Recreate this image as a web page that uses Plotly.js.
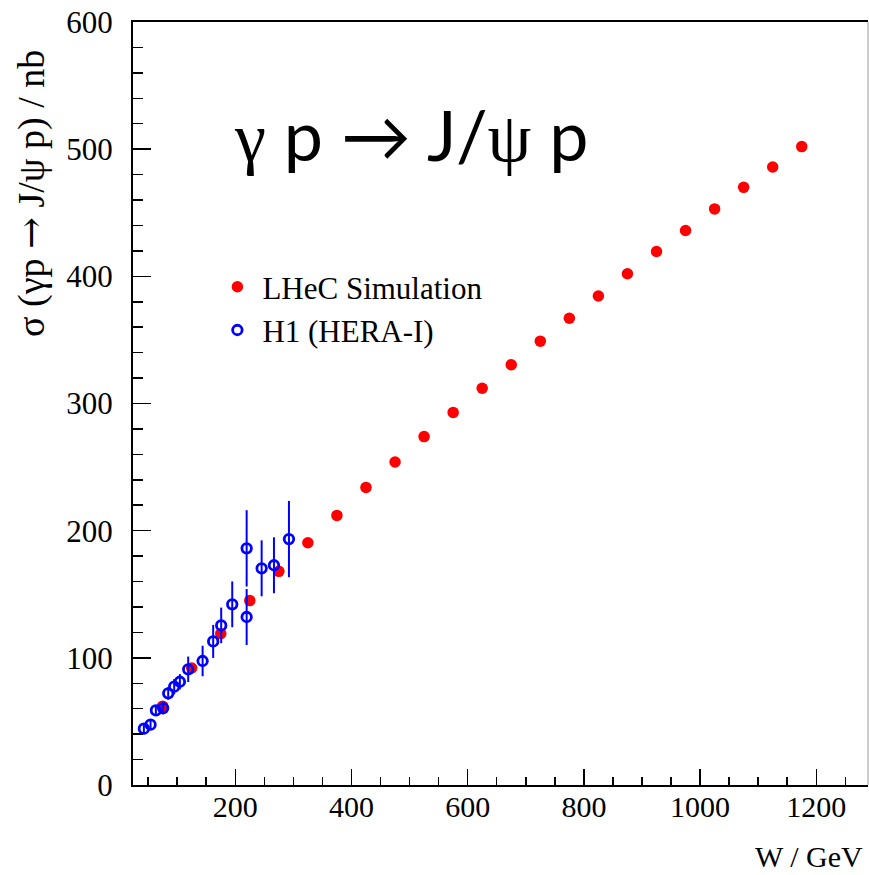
<!DOCTYPE html>
<html>
<head>
<meta charset="utf-8">
<script src="https://cdn.plot.ly/plotly-3.0.1.min.js"></script>
<style>html,body{margin:0;padding:0;background:#fff;}</style>
</head>
<body>
<div id="chart" style="width:869px;height:875px;"></div>
<script>
// LHeC simulation
const lhecW = [75,125,175,225,275,325,375,425,475,525,575,625,675,725,775,825,875,925,975,1025,1075,1125,1175];
const lhecSigma = [62,92,119,145,168,190.5,212,234,254,274,293,312,330.5,349,367,384.5,402,419.5,436,453,470,486,502];
// H1 (HERA-I)
const h1W = [42.7,54.2,63.4,75.9,84.6,94.9,104.7,119,143.8,162,175.8,194.8,219.6,219.6,245.4,266.6,292.4];
const h1Sigma = [44.3,47.4,58.7,60.5,72.1,77.3,81.2,91.0,97.5,112.9,125.5,142.1,186.1,132.1,170.4,172.8,193.4];
const h1Err = [3,3,4,5,5,6,6,10,12,13,14,18,30,22,22,22,30];

const serif = 'Liberation Serif, Times New Roman, serif';

const traces = [
  {
    x: lhecW, y: lhecSigma, type: 'scatter', mode: 'markers', name: 'LHeC Simulation',
    marker: {color: '#ff0000', size: 11.5, symbol: 'circle'}
  },
  {
    x: h1W, y: h1Sigma, type: 'scatter', mode: 'markers', name: 'H1 (HERA-I)',
    marker: {color: '#0000ff', size: 9.5, symbol: 'circle-open', line: {color: '#0000ff', width: 2.8}},
    error_y: {type: 'data', array: h1Err, visible: true, color: '#0000ff', thickness: 2, width: 0}
  }
];

const layout = {
  width: 869, height: 875,
  margin: {l: 133, r: 1, t: 22, b: 90},
  paper_bgcolor: '#ffffff', plot_bgcolor: '#ffffff',
  showlegend: true,
  xaxis: {
    range: [24, 1289], showgrid: false, zeroline: false,
    showline: true, linecolor: '#000', linewidth: 2, mirror: true,
    ticks: 'inside', ticklen: 16, tickwidth: 1.5, tickcolor: '#000',
    tick0: 0, dtick: 200,
    minor: {ticks: 'inside', dtick: 50, tick0: 0, ticklen: 8, tickwidth: 1.5, tickcolor: '#000', showgrid: false},
    tickfont: {family: serif, size: 30, color: '#000'},
    ticklabelstandoff: -6
  },
  yaxis: {
    range: [0, 600], showgrid: false, zeroline: false,
    showline: true, linecolor: '#000', linewidth: 2,
    ticks: 'inside', ticklen: 18, tickwidth: 1.5, tickcolor: '#000',
    tick0: 0, dtick: 100,
    minor: {ticks: 'inside', dtick: 20, tick0: 0, ticklen: 10, tickwidth: 1.5, tickcolor: '#000', showgrid: false},
    tickfont: {family: serif, size: 31, color: '#000'},
    ticklabelstandoff: 12
  },
  legend: {
    x: 0.108, y: 0.688, xanchor: 'left', yanchor: 'top',
    bgcolor: 'rgba(0,0,0,0)', borderwidth: 0, itemwidth: 40,
    font: {family: serif, size: 31, color: '#000'},
    tracegroupgap: 0
  },
  shapes: [
    {type: 'line', xref: 'paper', yref: 'paper', x0: 1, x1: 1, y0: 0, y1: 1, line: {color: '#999', width: 1}}
  ],
  annotations: [
    {
      text: 'σ (γp <span style="font-family:DejaVu Serif">→</span> J/ψ p) / nb', xref: 'paper', yref: 'paper',
      x: -0.1388, y: 0.776, xanchor: 'center', yanchor: 'middle', textangle: -90,
      showarrow: false, font: {family: serif, size: 38, color: '#000'}
    },
    {
      text: 'W / GeV', xref: 'paper', yref: 'paper',
      x: 0.995, y: -0.0931, xanchor: 'right', yanchor: 'middle', borderpad: 0,
      showarrow: false, font: {family: serif, size: 30, color: '#000'}
    },
    {
      text: '<span style="font-family:Liberation Serif">γ</span> p → J/<span style="font-family:Liberation Serif">ψ</span> p',
      xref: 'paper', yref: 'paper', x: 0.379, y: 0.853, xanchor: 'center', yanchor: 'middle',
      showarrow: false, font: {family: 'Lato, Open Sans, sans-serif', size: 70, color: '#000'}
    }
  ]
};

Plotly.newPlot('chart', traces, layout, {displayModeBar: false, staticPlot: true});
</script>
</body>
</html>
